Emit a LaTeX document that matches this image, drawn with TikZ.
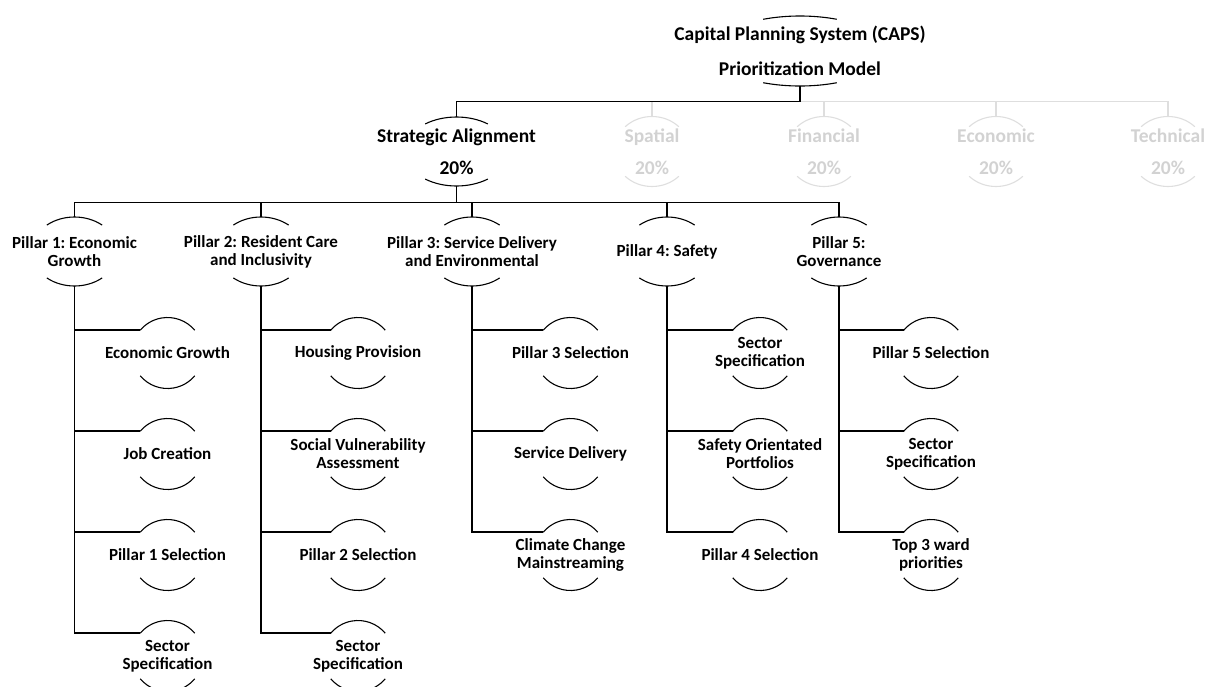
\documentclass[tikz,border=0pt]{standalone}
\usepackage{fontspec}
\setmainfont{Carlito}
\frenchspacing
\definecolor{faded}{HTML}{D2D2D2}
\definecolor{fadedline}{HTML}{DEDEDE}

\begin{document}
\begin{tikzpicture}[x = 1pt, y = 1pt]

\tikzset{
halo line/.style = {line width = 1.1pt},
halo/.style n args = {3}{append after command = {\pgfextra{
    \draw [halo line] (\tikzlastnode.center) ++(#3:#1 and #2) arc [start angle = #3, end angle = 180-#3, x radius = #1, y radius = #2];
    \draw [halo line] (\tikzlastnode.center) ++(180+#3:#1 and #2) arc [start angle = 180+#3, end angle = 360-#3, x radius = #1, y radius = #2];
    }}},
big text/.style = {align = center, inner sep = 0pt, font = \fontsize{19.5}{20}\selectfont\bfseries},
small text/.style = {align = center, inner sep = 0pt, font = \fontsize{17}{18}\selectfont\bfseries},
model/.style = {big text, minimum height = 70pt, halo = {87pt}{35pt}{65}},
criterion/.style = {big text, minimum height = 69pt, halo = {52pt}{34.5pt}{53}},
faded criterion/.style = {big text, minimum height = 69pt, text = faded, halo = {38pt}{35pt}{45}},
pillar/.style = {small text, minimum height = 69pt, halo = {43pt}{34.5pt}{50}},
leaf/.style = {small text, minimum height = 45.6pt, halo = {35.5pt}{35.5pt}{40}},
link/.style = {line width = 1.3pt},
faded link/.style = {line width = 1.3pt, draw = fadedline},
leaf link/.style = {link, shorten > = 27.2pt},
	}

\useasboundingbox (0, 0) rectangle (1211, -686);

% Model
\node at (800, -51) [model] (caps) {Capital Planning System (CAPS)\\[15pt]Prioritization Model};

% Criteria
\node at (456.5, -151.5) [criterion] (sa) {Strategic Alignment\\[12pt]20\%};
\begin{scope}[halo line/.style = {line width = 1.1pt, draw = fadedline}]
\node at (652, -151.5) [faded criterion] (spatial) {Spatial\\[12pt]20\%};
\node at (824, -151.5) [faded criterion] (financial) {Financial\\[12pt]20\%};
\node at (996, -151.5) [faded criterion] (economic) {Economic\\[12pt]20\%};
\node at (1168, -151.5) [faded criterion] (technical) {Technical\\[12pt]20\%};
\end{scope}

% Pillars
\node at (74.5, -251.5) [pillar] (p1) {Pillar 1: Economic\\Growth};
\node at (261, -251.5) [pillar] (p2) {Pillar 2: Resident Care\\and Inclusivity};
\node at (472, -251.5) [pillar] (p3) {Pillar 3: Service Delivery\\and Environmental};
\node at (667, -251.5) [pillar] (p4) {Pillar 4: Safety};
\node at (839, -251.5) [pillar] (p5) {Pillar 5:\\Governance};

% Pillar 1
\node at (167.5, -353) [leaf] (c11) {Economic Growth};
\node at (167.5, -454) [leaf] (c12) {Job Creation};
\node at (167.5, -555) [leaf] (c13) {Pillar 1 Selection};
\node at (167.5, -656) [leaf] (c14) {Sector\\Specification};

% Pillar 2
\node at (358, -353) [leaf] (c21) {Housing Provision};
\node at (358, -454) [leaf] (c22) {Social Vulnerability\\Assessment};
\node at (358, -555) [leaf] (c23) {Pillar 2 Selection};
\node at (358, -656) [leaf] (c24) {Sector\\Specification};

% Pillar 3
\node at (570.5, -353) [leaf] (c31) {Pillar 3 Selection};
\node at (570.5, -454) [leaf] (c32) {Service Delivery};
\node at (570.5, -555) [leaf] (c33) {Climate Change\\Mainstreaming};

% Pillar 4
\node at (760, -353) [leaf] (c41) {Sector\\Specification};
\node at (760, -454) [leaf] (c42) {Safety Orientated\\Portfolios};
\node at (760, -555) [leaf] (c43) {Pillar 4 Selection};

% Pillar 5
\node at (931, -353) [leaf] (c51) {Pillar 5 Selection};
\node at (931, -454) [leaf] (c52) {Sector\\Specification};
\node at (931, -555) [leaf] (c53) {Top 3 ward\\priorities};

% Links
\foreach \n in {spatial, financial, economic, technical}
  \draw [faded link] (caps.south) -- ++(0, -15) -| (\n.north);
\draw [link] (caps.south) -- ++(0, -15) -| (sa.north);
\foreach \n in {p1, p2, p3, p4, p5}
  \draw [link] (sa.south) -- ++(0, -16) -| (\n.north);
\foreach \p/\k in {1/4, 2/4, 3/3, 4/3, 5/3}
  \foreach \c in {1, ..., \k}
    \draw [leaf link] (p\p.south) |- (c\p\c.north);

\end{tikzpicture}
\end{document}
